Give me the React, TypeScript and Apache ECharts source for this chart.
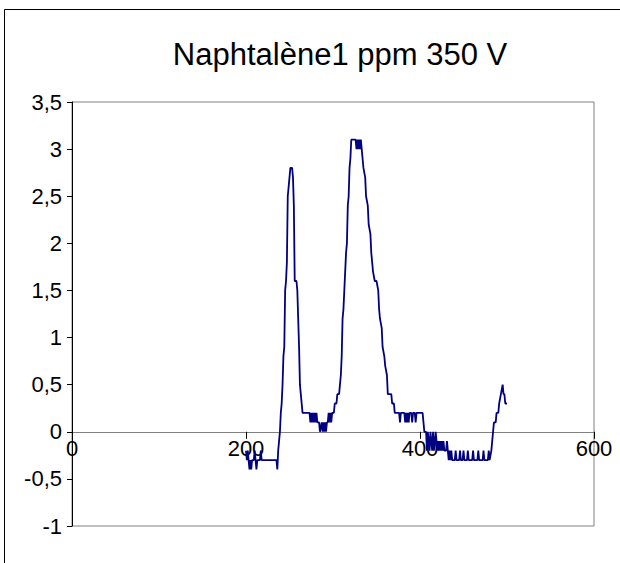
import React, { useEffect, useRef } from "react";
import * as echarts from "echarts";

const chartTitle = "Naphtalène1 ppm 350 V";

const xTicks = { min: 0, max: 600, interval: 200 };
const yTicks = { min: -1, max: 3.5, interval: 0.5 };

// time / channel values (x)
const xValues: number[] = [
  200, 201, 202, 203, 204, 205, 206, 207, 209, 210, 211, 212, 213, 216, 217, 218,
  235, 236, 237, 238, 239, 240, 241, 242, 243, 244, 245, 246, 247, 248, 249, 250,
  251, 253, 254, 255, 256, 258, 259, 260, 261, 262, 263, 264, 265, 273, 274, 275,
  276, 277, 278, 279, 280, 281, 282, 284, 285, 287, 288, 289, 290, 291, 292, 293,
  294, 295, 296, 297, 298, 299, 301, 302, 304, 305, 307, 308, 309, 310, 311, 312,
  313, 314, 315, 316, 317, 318, 319, 320, 321, 326, 327, 328, 329, 330, 331, 332,
  333, 334, 335, 337, 338, 340, 341, 343, 344, 345, 346, 348, 350, 352, 353, 354,
  356, 357, 359, 360, 362, 363, 367, 368, 370, 371, 376, 377, 378, 382, 383, 384,
  385, 386, 387, 388, 390, 391, 392, 394, 395, 396, 403, 404, 405, 407, 408, 409,
  410, 411, 412, 413, 414, 415, 416, 417, 418, 419, 420, 421, 422, 423, 424, 425,
  426, 427, 428, 430, 431, 432, 433, 434, 435, 436, 437, 440, 441, 442, 445, 446,
  447, 449, 450, 451, 454, 455, 456, 460, 461, 462, 466, 467, 468, 472, 473, 474,
  478, 479, 480, 482, 483, 484, 485, 487, 488, 490, 491, 493, 495, 496, 497, 498,
  500,
];

// signal values (y)
const yValues: number[] = [
  -0.2, -0.3, -0.2, -0.3, -0.4, -0.3, -0.4, -0.3, -0.3, -0.2, -0.3, -0.4, -0.3, -0.3, -0.2, -0.3,
  -0.3, -0.4, -0.2, -0.1, 0.0, 0.2, 0.3, 0.5, 0.8, 0.9, 1.5, 1.6, 1.8, 2.5, 2.6, 2.7,
  2.8, 2.8, 2.7, 2.4, 1.6, 1.6, 1.5, 1.2, 0.9, 0.5, 0.4, 0.3, 0.2, 0.2, 0.1, 0.2,
  0.1, 0.2, 0.1, 0.2, 0.1, 0.2, 0.1, 0.1, 0.0, 0.1, 0.0, 0.1, 0.0, 0.1, 0.0, 0.1,
  0.1, 0.2, 0.1, 0.2, 0.1, 0.2, 0.2, 0.3, 0.3, 0.4, 0.4, 0.5, 0.6, 0.8, 1.2, 1.3,
  1.5, 1.7, 1.9, 2.0, 2.4, 2.5, 2.8, 2.9, 3.1, 3.1, 3.0, 3.1, 3.0, 3.1, 3.0, 3.1,
  3.0, 2.9, 2.8, 2.7, 2.5, 2.4, 2.2, 2.1, 1.9, 1.8, 1.7, 1.6, 1.6, 1.5, 1.3, 1.2,
  1.1, 0.9, 0.8, 0.7, 0.6, 0.4, 0.4, 0.3, 0.3, 0.2, 0.2, 0.1, 0.2, 0.2, 0.1, 0.2,
  0.1, 0.2, 0.1, 0.2, 0.2, 0.1, 0.2, 0.2, 0.1, 0.2, 0.2, 0.1, 0.0, 0.0, -0.2, 0.0,
  -0.1, -0.2, 0.0, -0.1, -0.2, 0.0, -0.2, -0.1, 0.0, -0.1, -0.2, -0.1, -0.2, -0.1, -0.2, -0.1,
  -0.2, -0.1, -0.2, -0.2, -0.1, -0.2, -0.3, -0.2, -0.3, -0.2, -0.3, -0.3, -0.2, -0.3, -0.3, -0.2,
  -0.3, -0.3, -0.2, -0.3, -0.3, -0.2, -0.3, -0.3, -0.2, -0.3, -0.3, -0.2, -0.3, -0.3, -0.2, -0.3,
  -0.3, -0.2, -0.3, -0.2, -0.1, 0.0, 0.1, 0.1, 0.2, 0.2, 0.3, 0.4, 0.5, 0.4, 0.4, 0.3,
  0.3,
];

const FONT = "'Liberation Sans', Arial, sans-serif";

const GRID = { left: 72, right: 26, top: 102, bottom: 37 };
const HEIGHT = 563;

export default function App() {
  const ref = useRef<HTMLDivElement>(null);

  useEffect(() => {
    if (!ref.current) return;
    const chart = echarts.init(ref.current, undefined, { renderer: "svg" });
    const data = xValues.map((x, i) => [x, yValues[i]]);
    const plotH = HEIGHT - GRID.top - GRID.bottom;
    const zeroOffset = (plotH * (0 - yTicks.min)) / (yTicks.max - yTicks.min);
    chart.setOption({
      animation: false,
      backgroundColor: "#ffffff",
      title: {
        text: chartTitle,
        left: 340,
        top: 39,
        padding: 0,
        textAlign: "center",
        textStyle: {
          fontFamily: FONT,
          fontSize: 31,
          fontWeight: "normal",
          color: "#000000",
        },
      },
      graphic: [
        {
          type: "rect",
          silent: true,
          z: -10,
          shape: { x: 4.5, y: 9.5, width: 700, height: 700 },
          style: { fill: "none", stroke: "#000000", lineWidth: 1 },
        },
      ],
      grid: {
        left: GRID.left,
        right: GRID.right,
        top: GRID.top,
        bottom: GRID.bottom,
        show: true,
        borderColor: "#808080",
        borderWidth: 1,
        backgroundColor: "transparent",
      },
      xAxis: {
        type: "value",
        min: xTicks.min,
        max: xTicks.max,
        interval: xTicks.interval,
        offset: -zeroOffset,
        axisLine: { show: true, onZero: false, lineStyle: { color: "#808080", width: 1 } },
        axisTick: { show: true, length: 7, lineStyle: { color: "#000000" } },
        axisLabel: {
          margin: 6,
          fontFamily: FONT,
          fontSize: 22,
          color: "#000000",
        },
        splitLine: { show: false },
      },
      yAxis: {
        type: "value",
        min: yTicks.min,
        max: yTicks.max,
        interval: yTicks.interval,
        axisLine: { show: true, onZero: false, lineStyle: { color: "#000000", width: 1 } },
        axisTick: { show: true, length: 5, lineStyle: { color: "#000000" } },
        axisLabel: {
          margin: 10,
          fontFamily: FONT,
          fontSize: 22,
          color: "#000000",
          formatter: (v: number) => String(v).replace(".", ","),
        },
        splitLine: { show: false },
      },
      series: [
        {
          type: "line",
          data,
          showSymbol: false,
          symbol: "none",
          lineStyle: { color: "#000080", width: 1.8 },
        },
      ],
    });
    return () => chart.dispose();
  }, []);

  return (
    <div
      ref={ref}
      style={{ position: "fixed", left: 0, top: 0, width: 620, height: HEIGHT }}
    />
  );
}
